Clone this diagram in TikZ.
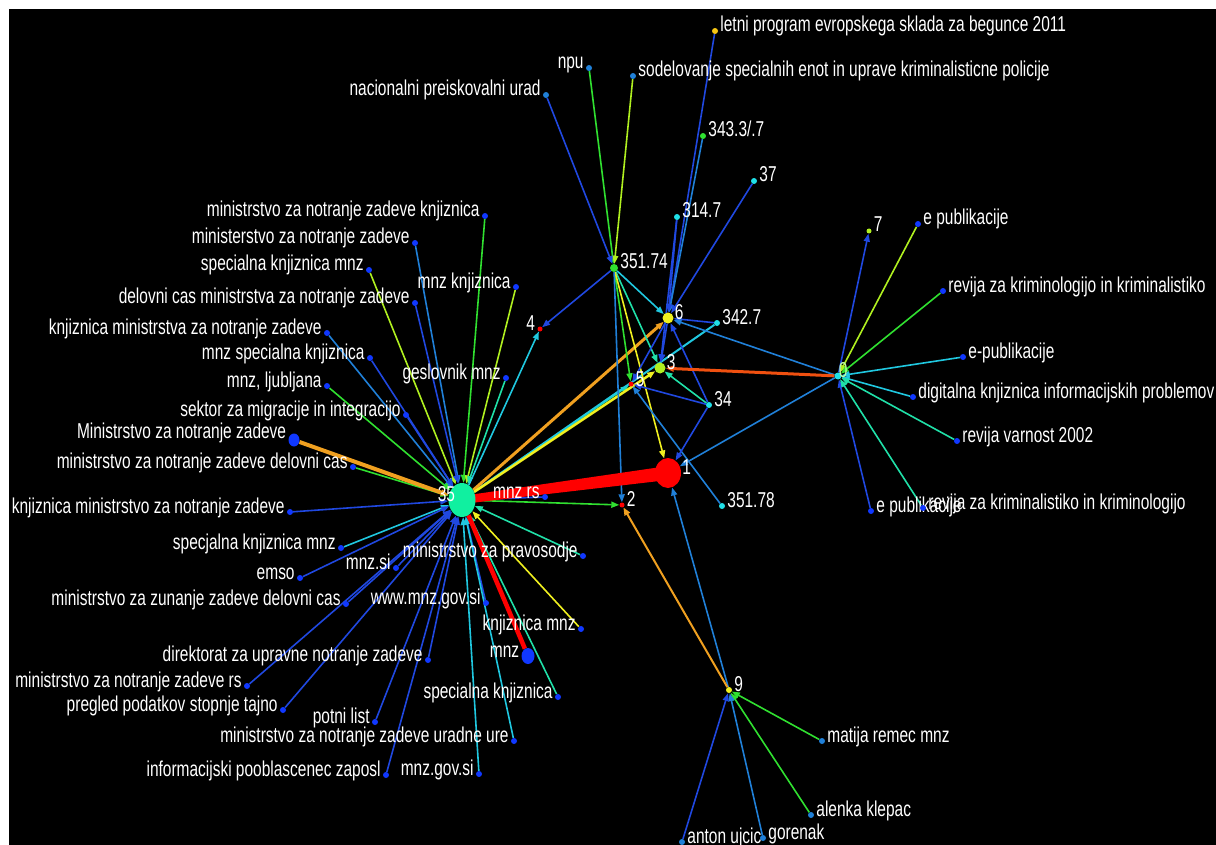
\documentclass[tikz,border=0pt]{standalone}
\usepackage{fontspec}
\setmainfont{Liberation Sans}[FakeStretch=0.72]
\usetikzlibrary{arrows.meta,shapes.geometric}

\definecolor{eblue}{HTML}{2048E0}
\definecolor{elblue}{HTML}{2080D8}
\definecolor{ecyan}{HTML}{20C8E0}
\definecolor{eteal}{HTML}{20E0A8}
\definecolor{egreen}{HTML}{30E030}
\definecolor{eyg}{HTML}{B0F020}
\definecolor{eyellow}{HTML}{F0F020}
\definecolor{eorange}{HTML}{F0A020}
\definecolor{ered}{HTML}{FF0000}
\definecolor{eredor}{HTML}{F05010}
\definecolor{dblue}{HTML}{1038FF}
\definecolor{dcyan}{HTML}{20E0E8}
\definecolor{hubgreen}{HTML}{10F0A0}
\definecolor{zerogreen}{HTML}{C0FFA8}

\pgfdeclarelayer{bg}
\pgfdeclarelayer{edges}
\pgfsetlayers{bg,edges,main}

\tikzset{
  dot/.style={circle,fill=#1,inner sep=0pt,minimum size=6pt},
  leaf/.style={dot=dblue},
  blob/.style={ellipse,fill=#1,inner sep=0pt},
  txt/.style={text=white,inner sep=0pt,font=\fontsize{21.5}{22}\selectfont},
  tr/.style={txt,anchor=base west,xshift=2pt,yshift=-1pt},
  tl/.style={txt,anchor=base east,xshift=-2pt,yshift=-1pt},
  lnk/.style={draw=#1,line width=1.6pt,-{Triangle[length=8pt,width=6pt]}},
  plain/.style={draw=#1,line width=1.6pt}
}

\begin{document}
\begin{tikzpicture}[x=1pt,y=-1pt]
    \useasboundingbox (0,0) rectangle (1216,845);
    \begin{pgfonlayer}{bg}
        \fill[white] (0,0) rectangle (1216,845);
        \fill[black] (9,9) rectangle (1216,845);
    \end{pgfonlayer}

    % hubs
    \node (n35) at (462,500)[blob=hubgreen,minimum width=27pt,minimum height=34pt,label={[tl,xshift=9pt]180:35}]{};
    \node (n1) at (668,473)[blob=ered,minimum width=26pt,minimum height=30pt,label={[tr,xshift=-1pt]0:1}]{};
    \node (n2) at (622,505)[dot=ered,minimum size=5pt,label={[tr]0:2}]{};
    \node (n3) at (660,368)[dot=eyg,minimum size=11pt,label={[tr,xshift=-1pt]0:3}]{};
    \node (n4) at (540,329)[dot=ered,minimum size=5pt,label={[tl]180:4}]{};
    \node (n5) at (631,384)[dot=ered,minimum size=5pt,label={[tr,yshift=-1pt]0:5}]{};
    \node (n6) at (668,318)[dot=eyellow,minimum size=11pt,label={[tr,xshift=-1pt]0:6}]{};
    \node (n0) at (838,376)[dot=dcyan,minimum size=7pt,label={[tr,xshift=-5pt,text=zerogreen]0:0}]{};
    \node (n7) at (869,231)[dot=eyg,minimum size=5pt,label={[tr]0:7}]{};
    \node (n9) at (729,690)[dot=eyellow,minimum size=6pt,label={[tr]0:9}]{};

    % numbered leaves
    \node (d35174) at (614,268)[dot=egreen,minimum size=8pt,label={[tr]0:351.74}]{};
    \node (d3147) at (677,217)[dot=dcyan,label={[tr]0:314.7}]{};
    \node (d3433) at (703,136)[dot=egreen,label={[tr]0:343.3/.7}]{};
    \node (d37) at (754,181)[dot=dcyan,label={[tr]0:37}]{};
    \node (d3427) at (717,323)[dot=dcyan,label={[tr]0:342.7}]{};
    \node (d34) at (709,405)[dot=dcyan,label={[tr]0:34}]{};
    \node (d35178) at (722,506)[dot=dcyan,label={[tr]0:351.78}]{};

    % top leaves
    \node (letni) at (715,31)[dot=eorange!60!yellow,label={[tr]0:letni program evropskega sklada za begunce 2011}]{};
    \node (sodel) at (633,76)[dot=elblue,label={[tr]0:sodelovanje specialnih enot in uprave kriminalisticne policije}]{};
    \node (npu) at (589,68)[dot=elblue,label={[tl]180:npu}]{};
    \node (nacion) at (546,95)[dot=elblue,label={[tl]180:nacionalni preiskovalni urad}]{};

    % big leaves of 35
    \node (bigM) at (294,440)[blob=dblue,minimum width=11pt,minimum height=13pt,label={[tl,yshift=3pt]180:Ministrstvo za notranje zadeve}]{};
    \node (bigmnz) at (528,656)[blob=dblue,minimum width=13pt,minimum height=16pt,label={[tl]180:mnz}]{};
    \node (mnzrs) at (545,497)[leaf,label={[tl]180:mnz rs}]{};

    % leaves of 35
    \foreach \nm/\x/\y/\col/\txt in {
        lA/485/216/egreen/ministrstvo za notranje zadeve knjiznica,
        lB/415/243/elblue/ministerstvo za notranje zadeve,
        lC/369/270/eyg/specialna knjiznica mnz,
        lD/516/287/eyg/mnz knjiznica,
        lE/415/303/eblue/delovni cas ministrstva za notranje zadeve,
        lF/327/333/elblue/knjiznica ministrstva za notranje zadeve,
        lG/370/358/eblue/mnz specialna knjiznica,
        lH/506/378/eteal/geslovnik mnz,
        lI/327/386/egreen/{mnz, ljubljana},
        lJ/406/415/eblue/sektor za migracije in integracijo,
        lL/353/467/egreen/ministrstvo za notranje zadeve delovni cas,
        lM/290/512/eblue/knjiznica ministrstvo za notranje zadeve,
        lN/341/548/ecyan/specjalna knjiznica mnz,
        lO/300/578/eblue/emso,
        lP/396/568/eblue/mnz.si,
        lQ/346/604/eblue/ministrstvo za zunanje zadeve delovni cas,
        lR/583/556/eteal/ministrstvo za pravosodje,
        lS/486/603/eblue/www.mnz.gov.si,
        lT/581/629/eyellow/knjiznica mnz,
        lV/428/660/eblue/direktorat za upravne notranje zadeve,
        lW/247/686/eblue/ministrstvo za notranje zadeve rs,
        lX/283/710/eblue/pregled podatkov stopnje tajno,
        lY/558/697/eteal/specialna knjiznica,
        lZ/375/722/eblue/potni list,
        la/514/741/ecyan/ministrstvo za notranje zadeve uradne ure,
        lb/386/775/eblue/informacijski pooblascenec zaposl,
        lc/479/774/ecyan/mnz.gov.si}
        {
            \node (\nm) at (\x,\y)[leaf,label={[tl]180:\txt}]{};
            \begin{pgfonlayer}{edges}
                \draw[lnk=\col] (\nm) -- (n35);
            \end{pgfonlayer}
        }

    % leaves of 0
    \foreach \nm/\x/\y/\col/\txt in {
        rA/918/224/eyg/e publikacije,
        rB/943/291/egreen/revija za kriminologijo in kriminalistiko,
        rC/963/357/ecyan/e-publikacije,
        rD/913/397/ecyan/digitalna knjiznica informacijskih problemov,
        rE/957/441/eteal/revija varnost 2002,
        rF/871/511/eblue/e publikacije,
        rG/923/508/eteal/revija za kriminalistiko in kriminologijo}
        {
            \node (\nm) at (\x,\y)[leaf,label={[tr]0:\txt}]{};
            \begin{pgfonlayer}{edges}
                \draw[lnk=\col] (\nm) -- (n0);
            \end{pgfonlayer}
        }

    % leaves of 9
    \foreach \nm/\x/\y/\col/\txt in {
        bA/822/741/egreen/matija remec mnz,
        bB/811/815/egreen/alenka klepac,
        bC/763/838/elblue/gorenak,
        bD/682/842/eblue/anton ujcic}
        {
            \node (\nm) at (\x,\y)[dot=elblue,label={[tr]0:\txt}]{};
            \begin{pgfonlayer}{edges}
                \draw[lnk=\col] (\nm) -- (n9);
            \end{pgfonlayer}
        }

    \begin{pgfonlayer}{edges}
        % from 35
        \draw[lnk=egreen] (n35) -- (n2);
        \draw[lnk=ecyan] (n35) -- (n4);
        \draw[lnk=eteal] (n35) -- (n5);
        \draw[plain=ecyan,line width=2pt] (n35) -- (d3427);
        \draw[lnk=eorange,line width=3pt] (n35) -- (n6);
        \draw[lnk=eyellow,line width=2.5pt] (n35) -- (n3);
        \draw[plain=eblue] (n35) -- (mnzrs);
        \draw[lnk=eorange,line width=4pt] (bigM) -- (n35);

        % from 351.74
        \draw[lnk=egreen] (npu) -- (d35174);
        \draw[lnk=eyg] (sodel) -- (d35174);
        \draw[lnk=eblue] (nacion) -- (d35174);
        \draw[lnk=eblue] (d35174) -- (n4);
        \draw[lnk=ecyan] (d35174) -- (n6);
        \draw[lnk=eteal] (d35174) -- (n3);
        \draw[lnk=egreen] (d35174) -- (n5);
        \draw[lnk=eyellow] (d35174) -- (n1);
        \draw[lnk=elblue] (d35174) -- (n2);

        % into 6, 3, 5
        \draw[lnk=eblue] (letni) -- (n6);
        \draw[lnk=elblue] (d3433) -- (n6);
        \draw[lnk=eblue] (d37) -- (n6);
        \draw[lnk=eblue] (d3147) -- (n6);
        \draw[lnk=eblue] (d3147) -- (n3);
        \draw[lnk=eblue] (d3427) -- (n6);
        \draw[lnk=elblue] (n0) -- (n6);
        \draw[lnk=eblue] (d34) -- (n6);
        \draw[lnk=eblue] (n6) -- (n3);
        \draw[lnk=eblue] (n6) -- (n5);
        \draw[lnk=eredor,line width=3pt] (n0) -- (n3);
        \draw[lnk=eteal] (d34) -- (n3);
        \draw[lnk=eblue] (d34) -- (n5);
        \draw[lnk=elblue] (d35178) -- (n5);

        % into 1, 2, 7
        \draw[lnk=eblue] (d34) -- (n1);
        \draw[lnk=elblue] (n0) -- (n1);
        \draw[lnk=elblue] (n9) -- (n1);
        \draw[lnk=eorange,line width=2pt] (n9) -- (n2);
        \draw[lnk=eblue] (n0) -- (n7);

        % heavy red edges
        \draw[ered,line width=4.5pt] (n35) -- (bigmnz);
        \fill[ered] ([yshift=-4pt]n35.center) -- ([yshift=-7pt]n1.center)
            -- ([yshift=7pt]n1.center) -- ([yshift=4pt]n35.center) -- cycle;
    \end{pgfonlayer}
\end{tikzpicture}
\end{document}
